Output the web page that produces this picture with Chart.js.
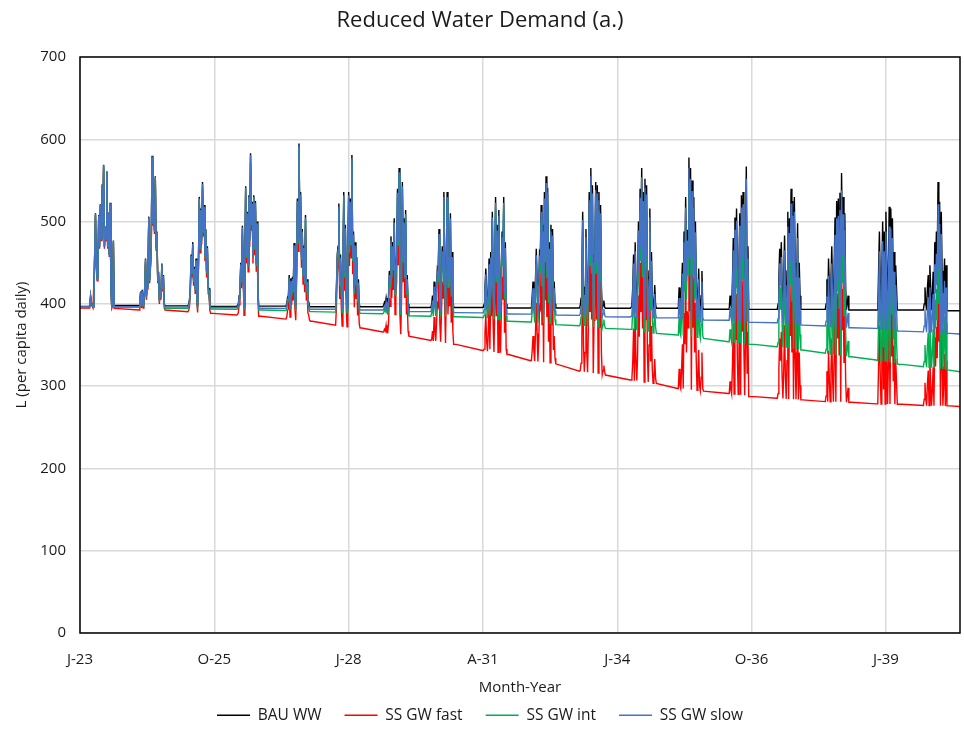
<!DOCTYPE html>
<html>
<head>
<meta charset="utf-8">
<script src="https://cdn.jsdelivr.net/npm/chart.js@4.4.1/dist/chart.umd.min.js"></script>
<style>
  html, body { margin: 0; padding: 0; background: #ffffff; }
  #wrap { width: 964px; height: 729px; }
</style>
</head>
<body>
<div id="wrap"><canvas id="c" width="964" height="729"></canvas></div>
<script>
// ---------- DATA ----------
// x-axis tick positions (months since Jan 2023) and their labels
const tickMonths = [0, 33, 66, 99, 132, 165, 198];
const tickLabels = ['J-23', 'O-25', 'J-28', 'A-31', 'J-34', 'O-36', 'J-39'];
const years = [2023,2024,2025,2026,2027,2028,2029,2030,2031,2032,2033,2034,2035,2036,2037,2038,2039,2040];
// month (within each year) where the sampled high-demand season begins
const seasonStart = [2.2,2.5,2.5,2.3,2.6,2.8,2.4,2.2,2.9,2.5,2.7,3.2,2.8,3.3,3.1,3.1,3.6,3.2];
const sampleStep = 0.2;      // months between samples within a season
const mainPerSeason = 17;    // even samples (values below); odd samples are in the *Mid arrays
const firstMonth = 0, lastMonth = 216.2;

// main samples: [start], then 17 per season, then [end]
const bauWW = [397,
 397,410,400,397,510,431,508,521,545,569,494,561,511,523,398,477,398,
 398,415,417,407,455,423,506,447,580,524,555,488,439,419,449,435,397.5,
 397.5,405,460,475,445,455,397,530,516,548,520,491,470,419,397,397,397,
 397,398,410,450,495,397,543,512,532,583,524,532,525,500,397.3,397.3,397.3,
 397.3,408,435,431,433,474,397,528,595,536,491,471,508,430,402,396.5,396.5,
 396.5,460,522,460,396.5,536,496,396.5,536,528,581,488,475,457,430,396.5,396.5,
 396.5,402,407,396,440,482,475,504,443,540,565,396,548,504,514,435,395.6,
 395.6,410,427,395.6,443,491,395.6,470,536,395.6,536,463,510,463,395.6,395.6,395.6,
 395.6,400,443,395.5,455,463,512,395.3,530,496,514,395.2,488,530,475,395,395,
 395,395,427,395,467,395,463,520,496,536,555,541,475,496,491,427,395,
 395,407,512,395,491,395,536,565,544,459,548,544,536,520,394.7,404,394.6,
 394.6,400,460,475,394.6,500,540,565,536,552,544,394.6,516,463,394.6,423,394.6,
 394.6,420,394.4,450,488,530,490,578,565,550,530,500,394,443,393.8,440,393.5,
 393.5,410,393.5,480,505,516,393.4,510,532,536,393.4,567,470,393.3,393.3,393.3,393.3,
 393.3,400,467,475,393.3,483,393.3,512,504,540,525,530,393.3,498,450,393.3,393.3,
 393.3,430,455,393.2,470,393.1,505,525,528,535,559,530,510,392.7,410,392.5,392.5,
 392.5,392.5,488,392.5,500,488,512,392.5,518,516,504,463,447,392.5,392.5,392.5,392.5,
 392.5,420,392.4,435,447,392.3,439,475,488,548,524,512,392,455,447,391.7,391.7,
 391.7];
const bauWWMid = [
 398,402,398,460,450,445,470,480,500,470,480,470,460,420,400,398,
 405,400,400,420,410,440,430,470,500,490,470,430,405,410,420,400,
 400,420,440,430,420,410,450,470,480,490,460,440,420,400,397,397,
 397,400,420,430,440,450,460,450,480,500,460,470,450,420,397.3,397.3,
 400,410,400,415,420,410,440,480,500,460,440,430,420,405,397,396.5,
 420,470,430,420,450,440,420,460,470,480,460,420,430,410,400,396.5,
 398,400,398,410,430,440,450,420,460,480,420,440,460,440,420,400,
 400,395.6,410,420,440,420,430,450,440,460,430,440,420,410,395.6,395.6,
 396,420,410,420,400,440,430,450,440,395,430,440,460,420,400,395,
 395,410,410,430,430,420,460,440,395,470,450,420,395,440,410,400,
 398,440,430,420,420,450,470,460,395,470,460,395,450,420,398,396,
 396,420,394.6,420,430,450,480,460,394.6,470,430,440,420,410,400,400,
 396,400,420,394.4,450,440,470,490,394.2,470,440,430,410,400,410,396,
 393.5,400,430,393.5,460,440,450,393.4,470,450,460,420,393.3,393.3,393.3,393.3,
 393.3,430,440,420,430,420,440,393.3,470,450,393.3,450,430,393.3,410,393.3,
 400,393.3,420,430,420,450,393,470,450,393,480,440,420,400,392.5,392.5,
 392.5,440,430,440,410,392.5,450,440,392.5,450,420,392.5,420,392.5,392.5,392.5,
 400,400,420,392.4,420,410,392.2,440,450,470,392.1,440,420,392,391.8,391.7];

const ssGwFast = [395,
 395,407,397,395,507,428,505,518,542,566,491,558,508,520,394.5,474,394.5,
 392.5,410,412,402,450,418,501,442,575,519,550,483,434,414,444,430,392.5,
 390.5,397,452,467,437,447,389.5,522,508,540,512,483,462,411,388.4,388.4,388.4,
 386.4,387,399,439,484,386,532,501,521,572,513,521,514,489,385,385,385,
 381.5,392,419,415,417,458,380,512,579,520,475,455,492,414,386,378.8,378.8,
 374,436,498,436,373,512,472,372,512,504,557,464,451,433,406,370.7,370.7,
 365.8,369,374,365,407,449,442,471,410,507,532,363,515,471,481,402,360.8,
 355.5,367,384,355,400,448,354,427,493,352.5,493,420,467,420,350.7,350.7,350.7,
 343.4,345,388,342.5,400,408,457,341.5,475,441,459,340.5,433,475,420,338.5,338.5,
 331.2,331,361,330.5,401,330,397,454,430,470,489,475,409,430,425,361,327.1,
 318.2,328,433,317.5,412,317,457,486,465,380,469,465,457,441,314,325,313.5,
 307.4,310,370,385,307,410,450,475,446,462,454,305,426,373,303.5,333,303.2,
 297.2,321,297,351,389,431,391,479,466,451,431,401,295,344,294.5,341,294,
 291,306,290.5,376,401,412,290,406,428,432,289,430,366,287.3,287.3,287.3,287.3,
 285.3,291,358,366,285,374,284.5,403,395,431,416,421,284,389,341,283.3,283.3,
 281.2,318,343,281,358,281,393,413,416,423,447,418,398,280.5,298,280.4,280.4,
 278.4,278.4,374,278.3,386,374,398,278.2,404,402,390,349,333,278,278,278,278,
 276.4,304,276.3,319,331,276.2,323,359,372,432,408,396,276.1,339,331,276,276,
 275.2];
const ssGwFastMid = [
 395,399,395,457,447,442,467,477,497,467,477,467,457,417,397,394.5,
 400,395,395,415,405,435,425,465,495,485,465,425,400,405,415,395,
 392,412,432,422,412,402,442,462,472,482,452,432,412,392,388.4,388.4,
 386.4,389,409,419,429,439,449,439,469,489,449,459,439,409,385,385,
 384,394,384,399,404,394,424,464,484,444,424,414,404,389,380,378.8,
 396,446,406,396,426,416,396,436,446,456,436,396,406,386,376,370.7,
 366,367,365,377,397,407,417,387,427,447,387,407,427,407,387,367,
 357,355,367,377,397,377,387,407,397,417,387,397,377,367,350.7,350.7,
 343.4,365,355,365,345,385,375,395,385,341,375,385,405,365,345,338.5,
 331.2,344,344,364,364,354,394,374,329,404,384,354,328.5,374,344,334,
 319,361,351,341,341,371,391,381,316,391,381,316,371,341,319,317,
 307.4,330,306.5,330,340,360,390,370,305,380,340,350,330,320,310,310,
 297.2,301,321,297,351,341,371,391,295.5,371,341,331,311,301,311,297,
 291,296,326,290.5,356,336,346,289.5,366,346,356,316,287.3,287.3,287.3,287.3,
 285.3,321,331,311,321,311,331,284.5,361,341,284,341,321,283.8,301,283.3,
 288,281.2,308,318,308,338,281,358,338,281,368,328,308,288,280.4,280.4,
 278.4,326,316,326,296,278.3,336,326,278.2,336,306,278.1,306,278,278,278,
 284,284,304,276.3,304,294,276.2,324,334,354,276.1,324,304,276,276,276];

const ssGwInt = [396.5,
 396.5,409,399,396.5,509,430,507,520,544,568,493,560,510,522,396,476,396,
 396,412,414,404,452,420,503,444,577,521,552,485,436,416,446,432,394.5,
 394.5,401,456,471,441,451,394,526,512,544,516,487,466,415,393.8,393.8,393.8,
 393.5,394,406,446,491,393,539,508,528,579,520,528,521,496,392.5,392.5,392.5,
 392,402,429,425,427,468,391.5,522,589,530,485,465,502,424,396,390.5,390.5,
 390,452,514,452,389.5,528,488,389,528,520,573,480,467,449,422,388.4,388.4,
 388,393,398,387.5,431,473,466,495,434,531,556,386.5,539,495,505,426,385.6,
 385,399,416,385,432,480,385,459,525,384.5,525,452,499,452,384.4,384.4,384.4,
 383.5,386,429,382.5,441,449,498,381.5,516,482,500,380.5,474,516,461,378.8,378.8,
 378,378,408,377.5,448,377,444,501,477,517,536,522,456,477,472,408,374.7,
 373.5,384,489,373,468,372.5,513,542,521,436,525,521,513,497,370.5,381,370.2,
 369,372,432,447,368,472,512,537,508,524,516,366,488,435,364.5,395,364.1,
 362.1,385,361.5,415,453,495,455,543,530,515,495,465,359.5,408,358.5,405,358,
 354,369,353.5,439,464,475,353,469,491,495,352,505,429,350.7,350.7,350.7,350.7,
 347.8,353,420,428,347,436,346.5,465,457,493,478,483,345,451,403,343.9,343.9,
 339.9,375,400,339,415,338.5,450,470,473,480,504,475,455,336.5,355,335.8,335.8,
 331.7,331,425,330.5,437,425,449,329.5,455,453,441,400,384,327,326.4,326.4,326.4,
 323.6,350,323,365,377,322.5,369,405,418,478,454,442,321,385,377,319.5,319.5,
 317.4];
const ssGwIntMid = [
 396.5,401,397,459,449,444,469,479,499,469,479,469,459,419,399,396,
 402.5,397.5,397.5,417.5,407.5,437.5,427.5,467.5,497.5,487.5,467.5,427.5,402.5,407.5,417.5,397.5,
 396.5,416.5,436.5,426.5,416.5,406.5,446.5,466.5,476.5,486.5,456.5,436.5,416.5,396.5,393.8,393.8,
 393.5,396,416,426,436,446,456,446,476,496,456,466,446,416,392.5,392.5,
 394,404,394,409,414,404,434,474,494,454,434,424,414,399,391,390.5,
 412,462,422,412,442,432,412,452,462,472,452,412,422,402,392,388.4,
 389,391,389,401,421,431,441,411,451,471,411,431,451,431,411,391,
 389,385,399,409,429,409,419,439,429,449,419,429,409,399,384.4,384.4,
 383.5,406,396,406,386,426,416,436,426,381,416,426,446,406,386,378.8,
 378,391,391,411,411,401,441,421,376.5,451,431,401,376,421,391,381,
 375,417,407,397,397,427,447,437,372,447,437,372,427,397,375,373,
 369,392,367.5,392,402,422,452,432,366,442,402,412,392,382,372,372,
 362.1,365,385,361.5,415,405,435,455,360,435,405,395,375,365,375,361,
 354,359,389,353.5,419,399,409,352.5,429,409,419,379,350.7,350.7,350.7,350.7,
 347.8,383,393,373,383,373,393,346,423,403,345.5,403,383,345,363,343.9,
 345,339.5,365,375,365,395,338,415,395,337.5,425,385,365,345,335.8,335.8,
 331.7,377,367,377,347,330.5,387,377,329,387,357,328,357,327,326.4,326.4,
 330,330,350,323,350,340,322,370,380,400,321,370,350,320.5,319.7,319.5];

const ssGwSlow = [396.5,
 396.5,409,399,396.5,509,430,507,520,544,568,493,560,510,522,396.5,476,396.5,
 396.5,414,416,406,454,422,505,446,579,523,554,487,438,418,448,434,396,
 396,403,458,473,443,453,396,528,514,546,518,489,468,417,395.5,395.5,395.5,
 395.5,396,408,448,493,395,541,510,530,581,522,530,523,498,394.6,394.6,394.6,
 394.5,405,432,428,430,471,394,525,592,533,488,468,505,427,399,393.5,393.5,
 393.5,456,518,456,393,532,492,393,532,524,577,484,471,453,426,392.5,392.5,
 392.5,397,402,392,435,477,470,499,438,535,560,391,543,499,509,430,390.5,
 390.5,404,421,390,437,485,390,464,530,390,530,457,504,457,389.3,389.3,389.3,
 389,393,436,388.7,448,456,505,388.4,523,489,507,388,481,523,468,387.7,387.7,
 387.5,387.5,419,387.3,459,387,455,512,488,528,547,533,467,488,483,419,386.4,
 386,397,502,385.7,481,385.5,526,555,534,449,538,534,526,510,384.6,394,384.4,
 384,389,449,464,383.8,489,529,554,525,541,533,383.5,505,452,383.2,412,383.1,
 383,407,382.5,437,475,517,477,565,552,537,517,487,381,430,380.5,427,380.3,
 380,395,379.5,465,490,501,379,495,517,521,378,552,455,377.5,377.5,377.5,377.5,
 377,382,449,457,376.5,465,376,494,486,522,507,512,375,480,432,374.2,374.2,
 373,409,434,372.5,449,372.5,484,504,507,514,538,509,489,371.2,389,371,371,
 370.2,370,464,369.5,476,464,488,369,494,492,480,439,423,367,366.9,366.9,366.9,
 366,393,365.5,408,420,365.2,412,448,461,521,497,485,364.6,428,420,364.1,364.1,
 363.3];
const ssGwSlowMid = [
 396.5,401,397,459,449,444,469,479,499,469,479,469,459,419,399,396.5,
 403.5,398.5,398.5,418.5,408.5,438.5,428.5,468.5,498.5,488.5,468.5,428.5,403.5,408.5,418.5,398.5,
 398.5,418.5,438.5,428.5,418.5,408.5,448.5,468.5,478.5,488.5,458.5,438.5,418.5,398.5,395.5,395.5,
 395.5,398,418,428,438,448,458,448,478,498,458,468,448,418,394.6,394.6,
 397,407,397,412,417,407,437,477,497,457,437,427,417,402,394,393.5,
 416,466,426,416,446,436,416,456,466,476,456,416,426,406,396,392.5,
 393,395,393,405,425,435,445,415,455,475,415,435,455,435,415,395,
 394,390,404,414,434,414,424,444,434,454,424,434,414,404,389.3,389.3,
 389,413,403,413,393,433,423,443,433,388,423,433,453,413,393,387.7,
 387.5,402,402,422,422,412,452,432,387,462,442,412,386.8,432,402,392,
 388,430,420,410,410,440,460,450,385,460,450,385,440,410,388,386,
 385,409,383.7,409,419,439,469,449,383.5,459,419,429,409,399,389,389,
 383,387,407,382,437,427,457,477,381.5,457,427,417,397,387,397,383,
 380,385,415,379.5,445,425,435,379,455,435,445,405,377.5,377.5,377.5,377.5,
 377,412,422,402,412,402,422,376,452,432,375.5,432,412,375,392,374.2,
 379,373,399,409,399,429,372,449,429,372,459,419,399,379,371,371,
 370.2,416,406,416,386,369.5,426,416,368.5,426,396,368,396,367,366.9,366.9,
 373,373,393,365.4,393,383,365.2,413,423,443,364.8,413,393,364.5,364.2,364.1];

// ---------- build the table: month (x) of every sample, series interleaved ----------
const months = [firstMonth];
years.forEach((y, i) => {
  const base = (y - 2023) * 12 + seasonStart[i];
  for (let k = 0; k < 2 * mainPerSeason - 1; k++) months.push(+(base + k * sampleStep).toFixed(2));
});
months.push(lastMonth);

function interleave(main, mid) {
  const out = [main[0]];
  for (let i = 0; i < years.length; i++) {
    for (let k = 0; k < mainPerSeason; k++) {
      out.push(main[1 + i * mainPerSeason + k]);
      if (k < mainPerSeason - 1) out.push(mid[i * (mainPerSeason - 1) + k]);
    }
  }
  out.push(main[main.length - 1]);
  return out;
}
const toXY = arr => arr.map((v, i) => ({ x: months[i], y: v }));

// ---------- chart ----------
const FONT = "'Open Sans', 'DejaVu Sans', sans-serif";
const TXT = '#1a1a1a';
const GRID = '#d9d9d9';

const framePlugin = {
  id: 'frame',
  beforeDraw(chart) {
    const ctx = chart.ctx;
    ctx.save(); ctx.fillStyle = '#ffffff'; ctx.fillRect(0, 0, chart.width, chart.height); ctx.restore();
  },
  afterDraw(chart) {
    const { ctx, chartArea: a } = chart;
    ctx.save();
    ctx.strokeStyle = '#000000';
    ctx.lineWidth = 1.5;
    ctx.strokeRect(a.left, a.top, a.right - a.left, a.bottom - a.top);
    ctx.restore();
  }
};

const mk = (label, main, mid, color, order) => ({
  label, data: toXY(interleave(main, mid)), borderColor: color, backgroundColor: color,
  borderWidth: 1.4, pointRadius: 0, tension: 0, fill: false, order
});

new Chart(document.getElementById('c'), {
  type: 'line',
  data: {
    datasets: [
      mk('BAU WW', bauWW, bauWWMid, '#000000', 3),
      mk('SS GW fast', ssGwFast, ssGwFastMid, '#ff0000', 2),
      mk('SS GW int', ssGwInt, ssGwIntMid, '#00b050', 1),
      mk('SS GW slow', ssGwSlow, ssGwSlowMid, '#4472c4', 0)
    ]
  },
  options: {
    responsive: false,
    animation: false,
    devicePixelRatio: 1,
    layout: { padding: { left: 0, right: 4, top: 0, bottom: -4 } },
    plugins: {
      title: {
        display: true, text: 'Reduced Water Demand (a.)', color: TXT,
        font: { family: FONT, size: 22, weight: 'normal' },
        padding: { top: 8, bottom: 22.6 }
      },
      legend: {
        position: 'bottom',
        labels: {
          color: TXT, font: { family: FONT, size: 15.5 },
          boxWidth: 33, boxHeight: 0, padding: 23,
          sort: (a, b) => a.datasetIndex - b.datasetIndex
        }
      },
      tooltip: { enabled: false }
    },
    scales: {
      x: {
        type: 'linear', min: firstMonth, max: lastMonth,
        afterBuildTicks: s => { s.ticks = tickMonths.map(v => ({ value: v })); },
        afterFit: s => { s.height = 51.5; },
        ticks: {
          autoSkip: false, maxRotation: 0, padding: 18, color: TXT,
          font: { family: FONT, size: 15 },
          callback: (v, i) => tickLabels[i]
        },
        grid: { color: GRID, lineWidth: 1.5, drawTicks: false },
        border: { display: false },
        title: {
          display: true, text: 'Month-Year', color: TXT,
          font: { family: FONT, size: 15 }, padding: { top: 0, bottom: -12.5 }
        }
      },
      y: {
        min: 0, max: 700,
        afterFit: s => { s.width = 80; },
        ticks: { stepSize: 100, padding: 14, color: TXT, font: { family: FONT, size: 15 } },
        grid: { color: GRID, lineWidth: 1.5, drawTicks: false },
        border: { display: false },
        title: {
          display: true, text: 'L (per capita daily)', color: TXT,
          font: { family: FONT, size: 15 }, padding: { top: 13, bottom: 0 }
        }
      }
    }
  },
  plugins: [framePlugin]
});
</script>
</body>
</html>
